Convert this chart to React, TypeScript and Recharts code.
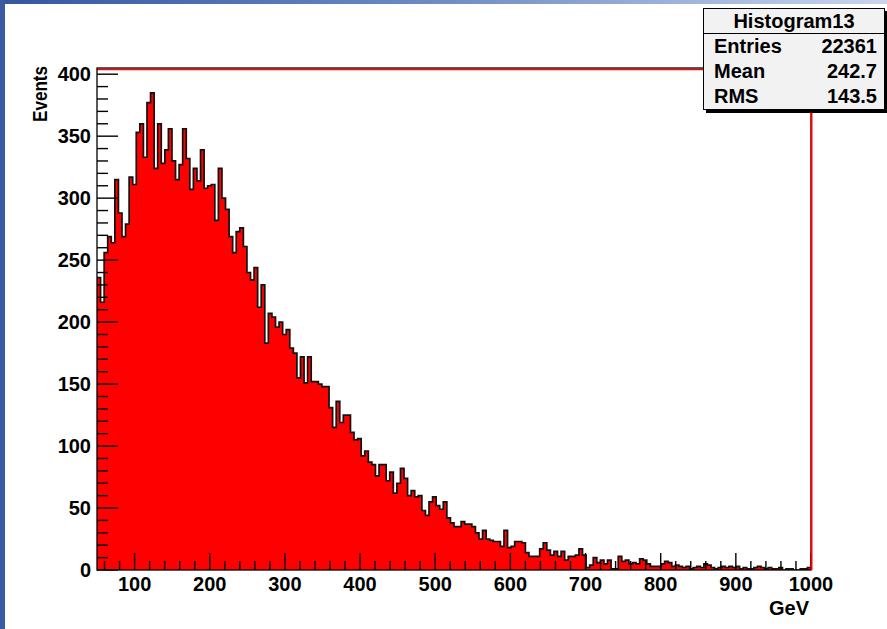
import React from 'react'
import { ComposedChart, Area, XAxis, YAxis, Label } from 'recharts'

const FONT = '"Liberation Sans", Arial, Helvetica, sans-serif'
const W = 887
const H = 629
const MARGIN = { top: 68, right: 76, bottom: 0, left: 0 }
const X_AXIS_H = 59
const Y_AXIS_W = 97

// 200 bins of 4.75 GeV between 50 and 1000 GeV
const X_MIN = 50
const X_MAX = 1000
const Y_MAX = 405
const BIN_WIDTH = 4.75

const binsRise = [236, 216, 256, 269, 264, 315, 288, 269, 279, 317, 311, 353, 360, 333, 377, 385, 324, 360, 328, 339, 356, 330, 315, 327, 356, 332, 307, 324, 314, 339, 308, 310, 311, 282, 324, 300, 291, 269, 256, 273]
const binsDrop = [276, 261, 240, 234, 244, 212, 230, 183, 207, 204, 196, 200, 190, 194, 179, 175, 155, 172, 151, 172, 152, 152, 150, 148, 148, 131, 115, 136, 119, 125, 125, 111, 105, 106, 92, 96, 87, 85, 76, 85]
const binsFall = [85, 72, 79, 62, 70, 82, 74, 60, 64, 59, 60, 48, 44, 55, 59, 52, 49, 55, 42, 38, 35, 35, 39, 37, 37, 35, 30, 25, 32, 25, 24, 23, 23, 19, 32, 18, 19, 23, 23, 22]
const binsTail = [14, 11, 11, 11, 17, 22, 16, 12, 15, 11, 15, 8, 11, 11, 12, 17, 12, 2, 4, 10, 6, 8, 5, 8, 1, 1, 11, 7, 8, 5, 6, 5, 9, 8, 5, 3, 3, 3, 5, 7]
const binsHigh = [6, 3, 4, 3, 2, 3, 1, 2, 3, 2, 5, 4, 2, 1, 2, 3, 2, 3, 2, 3, 1, 2, 1, 1, 2, 3, 2, 1, 2, 1, 1, 2, 0, 1, 1, 0, 0, 1, 1, 2]

const xTicks = [60, 80, 100, 120, 140, 160, 180, 200, 220, 240, 260, 280, 300, 320, 340, 360, 380, 400, 420, 440, 460, 480, 500, 520, 540, 560, 580, 600, 620, 640, 660, 680, 700, 720, 740, 760, 780, 800, 820, 840, 860, 880, 900, 920, 940, 960, 980, 1000]
const yTicks = [0, 10, 20, 30, 40, 50, 60, 70, 80, 90, 100, 110, 120, 130, 140, 150, 160, 170, 180, 190, 200, 210, 220, 230, 240, 250, 260, 270, 280, 290, 300, 310, 320, 330, 340, 350, 360, 370, 380, 390, 400]

const statsTitle = 'Histogram13'
const statsRows = [
  ['Entries', '22361'],
  ['Mean', '242.7'],
  ['RMS', '143.5'],
]

const counts = [...binsRise, ...binsDrop, ...binsFall, ...binsTail, ...binsHigh]
// step points at each bin's low edge, plus the closing edge
const data = [
  ...counts.map((v, i) => ({ x: X_MIN + i * BIN_WIDTH, v })),
  { x: X_MAX, v: counts[counts.length - 1] },
]

const labelStyle = { fontFamily: FONT, fontWeight: 700, fontSize: 20, fill: '#000' }

// plot box, same as the chart's offset (margin + axis sizes)
const PLOT_L = MARGIN.left + Y_AXIS_W
const PLOT_R = W - MARGIN.right
const PLOT_T = MARGIN.top
const PLOT_B = H - MARGIN.bottom - X_AXIS_H
const px = (v: number) => PLOT_L + ((v - X_MIN) / (X_MAX - X_MIN)) * (PLOT_R - PLOT_L)
const py = (v: number) => PLOT_B - (v / Y_MAX) * (PLOT_B - PLOT_T)

function XTick({ x, y, payload }: any) {
  if (payload.value % 100 !== 0) return <g />
  return (
    <text x={x} y={y + 16} textAnchor="middle" {...labelStyle}>
      {payload.value}
    </text>
  )
}

function YTick({ x, y, payload }: any) {
  if (payload.value % 50 !== 0) return <g />
  return (
    <text x={x - 1} y={y + 7} textAnchor="end" {...labelStyle}>
      {payload.value}
    </text>
  )
}

// frame and inner tick marks, drawn above the filled histogram
function FrameOverlay() {
  return (
    <svg
      width={W}
      height={H}
      style={{ position: 'absolute', left: 0, top: 0, zIndex: 5, pointerEvents: 'none', overflow: 'visible' }}
    >
      <g stroke="#000" strokeWidth={1.4}>
        {xTicks.map((t) => (
          <line key={`x${t}`} x1={px(t)} x2={px(t)} y1={PLOT_B} y2={PLOT_B - (t % 100 === 0 ? 17 : 9)} />
        ))}
        {yTicks.map((t) => (
          <line key={`y${t}`} x1={PLOT_L} x2={PLOT_L + (t % 50 === 0 ? 21 : 11)} y1={py(t)} y2={py(t)} />
        ))}
      </g>
      <line x1={PLOT_L} x2={PLOT_R} y1={PLOT_T + 1.5} y2={PLOT_T + 1.5} stroke="#ff0000" strokeWidth={1.5} />
      <rect x={PLOT_L} y={PLOT_T} width={PLOT_R - PLOT_L} height={PLOT_B - PLOT_T} fill="none" stroke="#000" strokeWidth={1.3} />
      <line x1={PLOT_R + 0.5} x2={PLOT_R + 0.5} y1={PLOT_T} y2={PLOT_B} stroke="#ff0000" strokeWidth={2} />
    </svg>
  )
}

function StatsBox() {
  return (
    <div
      style={{
        position: 'absolute',
        left: 703,
        top: 8,
        width: 180,
        height: 100,
        zIndex: 6,
        background: '#f2f2f2',
        border: '1px solid #000',
        boxShadow: '3px 3px 0 #000',
        fontFamily: FONT,
        fontWeight: 700,
        fontSize: 20,
        color: '#000',
      }}
    >
      <div style={{ height: 24, lineHeight: '24px', textAlign: 'center', borderBottom: '1px solid #000' }}>
        {statsTitle}
      </div>
      {statsRows.map(([k, v]) => (
        <div key={k} style={{ display: 'flex', justifyContent: 'space-between', padding: '0 7px 0 10px', height: 25, lineHeight: '25px' }}>
          <span>{k}</span>
          <span>{v}</span>
        </div>
      ))}
    </div>
  )
}

export default function App() {
  return (
    <div style={{ position: 'absolute', left: 0, top: 0, width: W, height: H, background: '#fff', overflow: 'hidden' }}>
      <div style={{ position: 'absolute', left: 0, top: 0, width: W, height: 4, background: 'linear-gradient(to right, #3556a0, #6f8cc4 50%, #c9d5ec)' }} />
      <div style={{ position: 'absolute', left: 0, top: 0, width: 5, height: H, background: '#3a5aa3' }} />
      <div style={{ position: 'absolute', left: 0, top: 0, zIndex: 1 }}>
        <ComposedChart width={W} height={H} data={data} margin={MARGIN}>
          <XAxis
            dataKey="x"
            type="number"
            domain={[X_MIN, X_MAX]}
            ticks={xTicks}
            interval={0}
            height={X_AXIS_H}
            tickSize={0}
            tickMargin={5}
            axisLine={false}
            tickLine={false}
            tick={<XTick />}
            allowDataOverflow
          >
            <Label
              content={({ viewBox }: any) => (
                <text x={viewBox.x + viewBox.width - 2} y={viewBox.y + 45} textAnchor="end" {...labelStyle}>
                  GeV
                </text>
              )}
            />
          </XAxis>
          <YAxis
            type="number"
            domain={[0, Y_MAX]}
            ticks={yTicks}
            interval={0}
            width={Y_AXIS_W}
            tickSize={0}
            tickMargin={5}
            axisLine={false}
            tickLine={false}
            tick={<YTick />}
            allowDataOverflow
          >
            <Label
              content={({ viewBox }: any) => (
                <text
                  x={viewBox.x + 47}
                  y={viewBox.y - 2}
                  transform={`rotate(-90 ${viewBox.x + 47} ${viewBox.y - 2})`}
                  textAnchor="end"
                  textLength={56}
                  lengthAdjust="spacingAndGlyphs"
                  {...labelStyle}
                >
                  Events
                </text>
              )}
            />
          </YAxis>
          <Area
            type="stepAfter"
            dataKey="v"
            fill="#ff0000"
            fillOpacity={1}
            stroke="#111"
            strokeWidth={1.7}
            dot={false}
            activeDot={false}
            isAnimationActive={false}
          />
        </ComposedChart>
      </div>
      <FrameOverlay />
      <StatsBox />
    </div>
  )
}
